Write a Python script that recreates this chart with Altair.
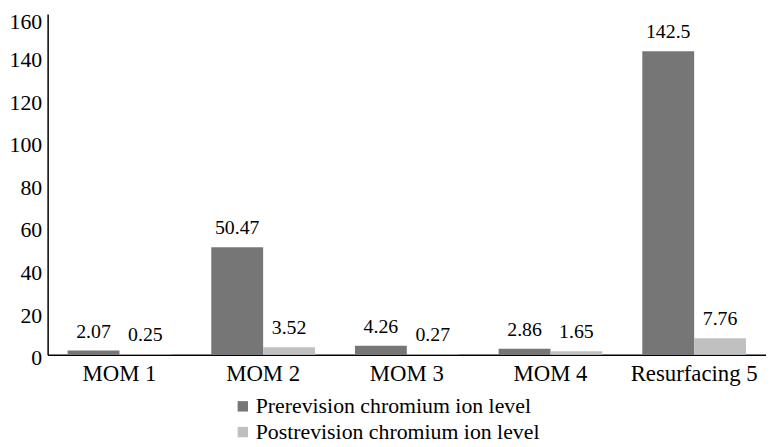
import altair as alt
import pandas as pd

categories = ["MOM 1", "MOM 2", "MOM 3", "MOM 4", "Resurfacing 5"]
pre_values = [2.07, 50.47, 4.26, 2.86, 142.5]
post_values = [0.25, 3.52, 0.27, 1.65, 7.76]
series = ["Prerevision chromium ion level", "Postrevision chromium ion level"]
pre_labels = ["2.07", "50.47", "4.26", "2.86", "142.5"]
post_labels = ["0.25", "3.52", "0.27", "1.65", "7.76"]

rows = []
for c, v, l in zip(categories, pre_values, pre_labels):
    rows.append({"cat": c, "series": series[0], "value": v, "label": l})
for c, v, l in zip(categories, post_values, post_labels):
    rows.append({"cat": c, "series": series[1], "value": v, "label": l})
df = pd.DataFrame(rows)

FONT = "Liberation Serif"

x = alt.X("cat:N", sort=categories, title=None,
          scale=alt.Scale(paddingInner=0.278, paddingOuter=0.139),
          axis=alt.Axis(labelAngle=0, labelFontSize=23, labelFont=FONT,
                        labelColor="black", ticks=False, labelPadding=8,
                        domainColor="black", domainWidth=1.5))
xo = alt.XOffset("series:N", sort=series, scale=alt.Scale(paddingInner=0, paddingOuter=0))
y = alt.Y("value:Q", title=None,
          scale=alt.Scale(domain=[0, 160], nice=False),
          axis=alt.Axis(values=list(range(0, 161, 20)), grid=False, ticks=False,
                        labelFontSize=22, labelFont=FONT, labelColor="black",
                        labelPadding=6,
                        labelOffset={"condition": {"test": "datum.value == 160", "value": 8},
                                     "value": 3},
                        domainColor="black", domainWidth=1.5))

bars = alt.Chart(df).mark_bar().encode(
    x=x, xOffset=xo, y=y,
    color=alt.Color("series:N", sort=series,
                    scale=alt.Scale(domain=series, range=["#767676", "#c0c0c0"]),
                    legend=alt.Legend(title=None, orient="none", legendX=186, legendY=385,
                                      direction="vertical", symbolType="square",
                                      symbolSize=110, symbolStrokeWidth=0,
                                      labelFontSize=22, labelFont=FONT, labelColor="black",
                                      rowPadding=4, labelOffset=2, labelLimit=400)),
)

texts = alt.Chart(df).mark_text(baseline="bottom", dy=-9, fontSize=20, font=FONT,
                                color="black").encode(
    x=alt.X("cat:N", sort=categories),
    xOffset=alt.XOffset("series:N", sort=series),
    y="value:Q",
    text="label:N",
)

chart = (bars + texts).properties(
    width=725, height=344,
    autosize=alt.AutoSizeParams(type="none"),
    padding={"left": 40, "top": 4, "right": 0, "bottom": 91},
).configure_view(stroke=None)

chart.save("out.html", embed_options={"renderer": "svg", "actions": False})
